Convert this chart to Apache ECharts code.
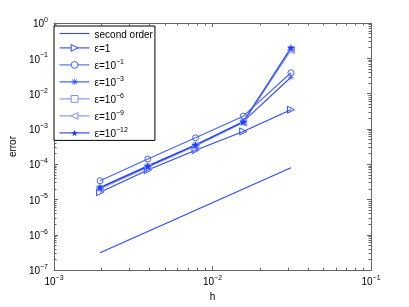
<!DOCTYPE html>
<html>
<head>
<meta charset="utf-8">
<script src="https://cdn.jsdelivr.net/npm/echarts@6/dist/echarts.min.js"></script>
<style>html,body{margin:0;padding:0;background:#fff}#c{width:409px;height:307px}</style>
</head>
<body>
<div id="c"></div>
<script>
const hValues = [0.001953125, 0.00390625, 0.0078125, 0.015625, 0.03125];
const secondOrder = [3.1e-7, 1.24e-6, 4.95e-6, 1.98e-5, 7.9e-5];
const eps1 = [1.6e-5, 6.8e-5, 2.5e-4, 8.5e-4, 3.5e-3];
const eps1e1 = [3.4e-5, 1.4e-4, 5.6e-4, 2.3e-3, 3.9e-2];
const eps1e3 = [2.2e-5, 9.0e-5, 3.5e-4, 1.6e-3, 2.9e-2];
const eps1e6 = [2.1e-5, 8.5e-5, 3.4e-4, 1.55e-3, 1.8e-1];
const eps1e9 = [2.0e-5, 8.2e-5, 3.3e-4, 1.5e-3, 1.7e-1];
const eps1e12 = [2.2e-5, 8.8e-5, 3.5e-4, 1.6e-3, 2.0e-1];
const seriesNames = ['second order', 'ε=1', 'ε=10^-1', 'ε=10^-3', 'ε=10^-6', 'ε=10^-9', 'ε=10^-12'];
const xMinorTicks = [0.002,0.003,0.004,0.005,0.006,0.007,0.008,0.009,0.02,0.03,0.04,0.05,0.06,0.07,0.08,0.09];
const yMinorTicks = [];
[1e-7,1e-6,1e-5,1e-4,1e-3,1e-2,1e-1].forEach(d => { for (let k = 2; k <= 9; k++) yMinorTicks.push(d * k); });

const STAR = 'path://M10,0 L12.23,6.93 L19.51,6.91 L13.61,11.17 L15.88,18.09 L10,13.8 L4.12,18.09 L6.39,11.17 L0.49,6.91 L7.77,6.93 Z';
const AST = 'path://M9,0 L11,0 L11,20 L9,20 Z M0,9 L20,9 L20,11 L0,11 Z M2.2,3.6 L3.6,2.2 L17.8,16.4 L16.4,17.8 Z M16.4,2.2 L17.8,3.6 L3.6,17.8 L2.2,16.4 Z';
const TRI_R = 'path://M0,0 L17,10 L0,20 Z';
const TRI_L = 'path://M17,0 L0,10 L17,20 Z';

const FONT = 'Liberation Sans';
const rich = {
  b: {fontFamily: FONT, fontSize: 10, color: '#000', lineHeight: 13, verticalAlign: 'bottom'},
  s: {fontFamily: FONT, fontSize: 7, color: '#000', lineHeight: 13, verticalAlign: 'top'}
};
function powLabel(v) {
  const e = Math.round(Math.log10(v));
  return '{b|10}{s|' + (e < 0 ? '\u2212' + (-e) : e) + '}';
}
function legendLabel(name) {
  const m = name.match(/^ε=10\^(-?\d+)$/);
  if (m) return '{b|ε=10}{s|' + m[1].replace('-', '\u2212') + '}';
  return '{b|' + name + '}';
}
function pairs(vals) { return hValues.map((h, i) => [h, vals[i]]); }

const axisCol = '#666';
function xMajor(pos, showLabel) {
  return {
    type: 'log', min: 0.001, max: 0.1, position: pos,
    axisLine: {show: true, onZero: false, lineStyle: {color: axisCol, width: 1}},
    axisTick: {show: true, inside: true, length: 4, lineStyle: {color: axisCol}},
    axisLabel: {show: showLabel, formatter: powLabel, rich: rich, margin: 4},
    splitLine: {show: false},
    name: showLabel ? 'h' : '', nameLocation: 'middle', nameGap: 19,
    nameTextStyle: {fontFamily: FONT, fontSize: 10, color: '#000'}
  };
}
function xMinor(pos) {
  return {
    type: 'value', min: -3, max: -1, position: pos,
    axisLine: {show: false, onZero: false},
    axisTick: {show: true, inside: true, length: 2.5, customValues: xMinorTicks.map(Math.log10), lineStyle: {color: axisCol}},
    axisLabel: {show: false}, splitLine: {show: false}
  };
}
function yMajor(pos, showLabel) {
  return {
    type: 'log', min: 1e-7, max: 1, position: pos,
    axisLine: {show: true, onZero: false, lineStyle: {color: axisCol, width: 1}},
    axisTick: {show: true, inside: true, length: 4, lineStyle: {color: axisCol}},
    axisLabel: {show: showLabel, formatter: powLabel, rich: rich, margin: 6},
    splitLine: {show: false},
    name: showLabel ? 'error' : '', nameLocation: 'middle', nameGap: 28, nameRotate: 90,
    nameTextStyle: {fontFamily: FONT, fontSize: 10, color: '#000'}
  };
}
function yMinor(pos) {
  return {
    type: 'value', min: 1, max: 8, position: pos, offset: -2.5,
    axisLine: {show: false, onZero: false},
    axisTick: {show: true, inside: false, length: 2.5, customValues: yMinorTicks.map(v => Math.log10(v) + 8), lineStyle: {color: axisCol}},
    axisLabel: {show: false}, splitLine: {show: false}
  };
}

const C1 = '#2a48ff', C2 = '#4562ff', C3 = '#2f4fff', C4 = '#7a90ff', C5 = '#7a90ff', C6 = '#1f3cff';
const styles = [
  {c: C1, sym: 'none', size: 0, filled: true},
  {c: C1, sym: TRI_R, size: 7, filled: false},
  {c: C2, sym: 'circle', size: 6, filled: false},
  {c: C3, sym: AST, size: 6, filled: true},
  {c: C4, sym: 'rect', size: 5, filled: false},
  {c: C5, sym: TRI_L, size: 7, filled: false},
  {c: C6, sym: STAR, size: 8, filled: true}
];
const valueLists = [secondOrder, eps1, eps1e1, eps1e3, eps1e6, eps1e9, eps1e12];

function itemStyleOf(s) {
  return s.filled ? {color: s.c, borderColor: s.c, borderWidth: 0}
                  : {color: 'rgba(255,255,255,0)', borderColor: s.c, borderWidth: 1};
}
const series = valueLists.map((vals, i) => {
  const s = styles[i];
  return {
    name: seriesNames[i], type: 'line', xAxisIndex: 0, yAxisIndex: 0,
    data: pairs(vals),
    symbol: s.sym, symbolSize: s.size, showSymbol: s.sym !== 'none',
    lineStyle: {color: s.c, width: 1.1},
    itemStyle: itemStyleOf(s),
    emphasis: {disabled: true}, silent: true
  };
});

const legendData = seriesNames.map((n, i) => {
  const s = styles[i];
  if (i === 0) return {name: n, itemStyle: {color: 'rgba(255,255,255,0)', borderColor: 'rgba(255,255,255,0)', borderWidth: 0}, lineStyle: {color: s.c, width: 1.1}};
  return {name: n,
    itemStyle: s.filled ? {color: s.c, borderColor: s.c, borderWidth: 0} : {color: '#fff', borderColor: s.c, borderWidth: 1},
    lineStyle: {color: s.c, width: 1.1}};
});

const chart = echarts.init(document.getElementById('c'), null, {renderer: 'canvas'});
chart.setOption({
  animation: false,
  grid: {left: 53, right: 38, top: 23, bottom: 34, containLabel: false},
  xAxis: [xMajor('bottom', true), xMinor('bottom'), xMajor('top', false), xMinor('top')],
  yAxis: [yMajor('left', true), yMinor('left'), yMajor('right', false), yMinor('right')],
  legend: {
    orient: 'vertical', left: 54, top: 26,
    itemWidth: 30, itemHeight: 8.5, itemGap: 4,
    padding: [4, 2, 1, 5],
    borderColor: '#000', borderWidth: 1, backgroundColor: '#fff',
    selectedMode: false,
    lineStyle: {width: 1.1},
    data: legendData,
    formatter: legendLabel,
    textStyle: {fontFamily: FONT, fontSize: 10, color: '#000', rich: rich}
  },
  series: series
});
</script>
</body>
</html>
